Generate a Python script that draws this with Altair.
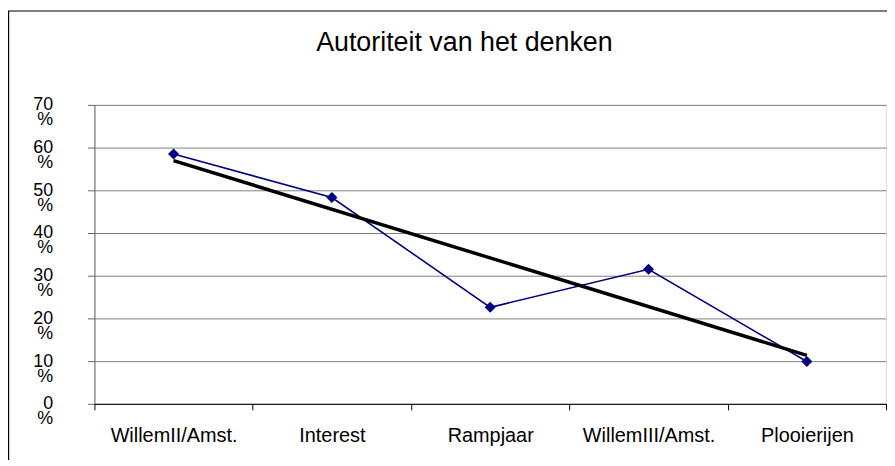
import json
import altair as alt
import pandas as pd

categories = ["WillemII/Amst.", "Interest", "Rampjaar", "WillemIII/Amst.", "Plooierijen"]
positions = [1, 2, 3, 4, 5]
values = [58.5, 48.3, 22.6, 31.5, 9.9]
y_ticks = [0, 10, 20, 30, 40, 50, 60, 70]
x_ticks = [0.5, 1, 1.5, 2, 2.5, 3, 3.5, 4, 4.5, 5, 5.5]
title_text = "Autoriteit van het denken"

df = pd.DataFrame({"idx": positions, "cat": categories, "value": values})

FONT = "Liberation Sans"
W, H = 797, 301

label_expr = ("datum.value % 1 === 0 ? " + json.dumps(categories) +
              "[datum.value - 1] : ''")

x_enc = alt.X(
    "idx:Q",
    scale=alt.Scale(domain=[0.5, 5.5], nice=False, zero=False),
    axis=alt.Axis(
        title=None, values=x_ticks, grid=False, labelExpr=label_expr,
        labelOverlap=False, labelFlush=False, labelFont=FONT, labelFontSize=20,
        labelColor="black", labelBaseline="top", labelPadding=16,
        tickSize=6, tickColor="black",
        tickOpacity={"condition": {"test": "datum.value % 1 === 0", "value": 0}, "value": 1},
        domainColor="black", domainWidth=1, zindex=1,
    ),
)
y_enc = alt.Y(
    "value:Q",
    scale=alt.Scale(domain=[0, 70], nice=False),
    axis=alt.Axis(
        title=None, values=y_ticks, grid=True, gridColor="#808080", gridWidth=1,
        labelExpr="[datum.label, '%']", labelLineHeight=15, labelFont=FONT,
        labelFontSize=18, labelColor="black", labelAlign="right",
        labelBaseline="middle", labelOffset=0, labelPadding=35,
        labelOverlap=False, tickSize=7, tickColor="#666666",
        domainColor="#666666", domainWidth=1,
    ),
)

base = alt.Chart(df)

series = base.mark_line(color="#000080", strokeWidth=1.6).encode(x=x_enc, y=y_enc)
points = base.mark_point(shape="diamond", filled=True, size=125, color="#000080", opacity=1).encode(
    x="idx:Q", y="value:Q")
trend = base.transform_regression("idx", "value", method="linear").mark_line(
    color="black", strokeWidth=3.5).encode(x="idx:Q", y="value:Q")

frame = alt.Chart(alt.Data(values=[{"k": 1}])).mark_rect(
    fill=None, stroke="black", strokeWidth=1.2).encode(
    x=alt.value(-86.4), x2=alt.value(1000), y=alt.value(-94.5), y2=alt.value(500))

chart = alt.layer(series, points, trend, frame).properties(
    width=W, height=H,
    title=alt.TitleParams(title_text, font=FONT, fontSize=27, fontWeight="normal",
                          color="black", anchor="middle", baseline="alphabetic",
                          offset=0, dy=68, dx=-26),
    autosize="none",
    padding={"left": 87, "top": 96, "right": 1, "bottom": 55},
).configure_view(stroke="#808080", strokeWidth=1).configure(background="white")

chart.save("out.html", embed_options={"renderer": "svg", "actions": False})
